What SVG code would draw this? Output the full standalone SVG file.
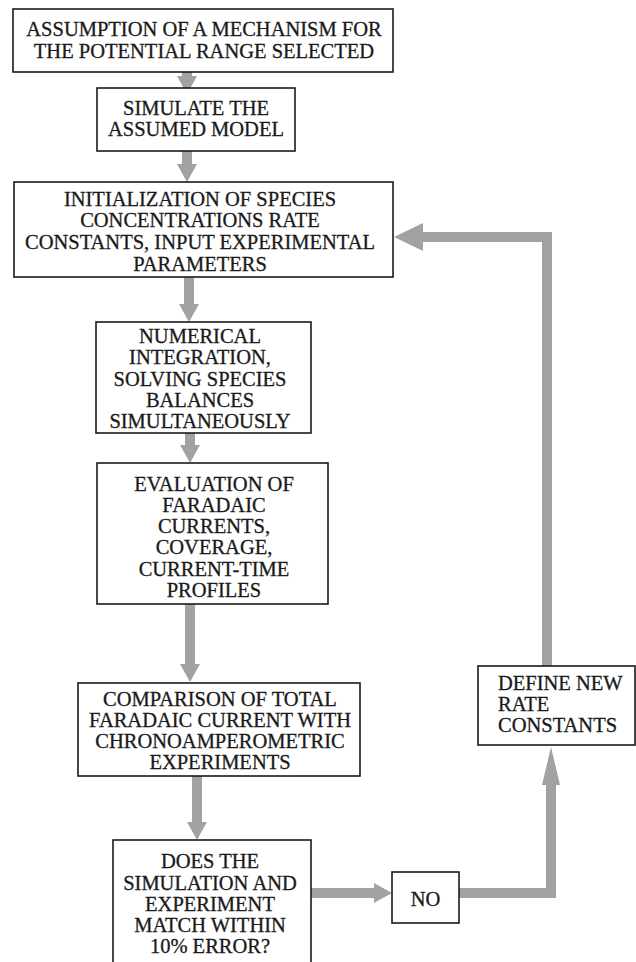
<svg xmlns="http://www.w3.org/2000/svg" width="636" height="962" viewBox="0 0 636 962">
<style>
.box{fill:#fff;stroke:#1a1a1a;stroke-width:1.6}
.t{font-family:'Liberation Serif','Times New Roman',Times,'DejaVu Serif',serif;font-size:20.5px;fill:#1a1a1a;stroke:#1a1a1a;stroke-width:0.3;text-anchor:middle}
.tl{text-anchor:start}
.c{fill:none;stroke:#a2a2a2;stroke-width:10}
</style>
<defs>
<marker id="ah" markerUnits="userSpaceOnUse" viewBox="0 0 18 20" refX="1" refY="10" markerWidth="18" markerHeight="20" orient="auto">
<path d="M0,0 L18,10 L0,20 z" fill="#a2a2a2"/>
</marker>
<marker id="big" markerUnits="userSpaceOnUse" viewBox="0 0 29 28" refX="1" refY="14" markerWidth="29" markerHeight="28" orient="auto">
<path d="M0,0 L29,14 L0,28 z" fill="#a2a2a2"/>
</marker>
<marker id="tall" markerUnits="userSpaceOnUse" viewBox="0 0 38 18" refX="1" refY="9" markerWidth="38" markerHeight="18" orient="auto">
<path d="M0,0 L38,9 L0,18 z" fill="#a2a2a2"/>
</marker>
</defs>
<rect width="636" height="962" fill="#fff"/>
<g id="connectors">
<path class="c" d="M187,72 V77" marker-end="url(#ah)"/>
<path class="c" d="M187,151 V165" marker-end="url(#ah)"/>
<path class="c" d="M189,277 V305" marker-end="url(#ah)"/>
<path class="c" d="M190,433 V446" marker-end="url(#ah)"/>
<path class="c" d="M190,604 V665" marker-end="url(#ah)"/>
<path class="c" d="M197,776 V823" marker-end="url(#ah)"/>
<path class="c" d="M311,893 H375" marker-end="url(#ah)"/>
<path class="c" d="M459,893 H551 V784" marker-end="url(#tall)"/>
<path class="c" d="M547,666 V237 H422" marker-end="url(#big)"/>
</g>
<g id="n1">
<rect class="box" x="13" y="9" width="380" height="63"/>
<text class="t" x="204" y="36">ASSUMPTION OF A MECHANISM FOR</text>
<text class="t" x="204" y="58">THE POTENTIAL RANGE SELECTED</text>
</g>
<g id="n2">
<rect class="box" x="97" y="88" width="198" height="63"/>
<text class="t" x="196" y="115">SIMULATE THE</text>
<text class="t" x="196" y="136">ASSUMED MODEL</text>
</g>
<g id="n3">
<rect class="box" x="14" y="182" width="379" height="95"/>
<text class="t" x="200" y="206">INITIALIZATION OF SPECIES</text>
<text class="t" x="200" y="227">CONCENTRATIONS RATE</text>
<text class="t" x="200" y="249">CONSTANTS, INPUT EXPERIMENTAL</text>
<text class="t" x="200" y="271">PARAMETERS</text>
</g>
<g id="n4">
<rect class="box" x="96" y="322" width="215" height="111"/>
<text class="t" x="200" y="343">NUMERICAL</text>
<text class="t" x="200" y="364">INTEGRATION,</text>
<text class="t" x="200" y="386">SOLVING SPECIES</text>
<text class="t" x="200" y="407">BALANCES</text>
<text class="t" x="200" y="428">SIMULTANEOUSLY</text>
</g>
<g id="n5">
<rect class="box" x="97" y="463" width="231" height="141"/>
<text class="t" x="214" y="491">EVALUATION OF</text>
<text class="t" x="214" y="512">FARADAIC</text>
<text class="t" x="214" y="533">CURRENTS,</text>
<text class="t" x="214" y="554">COVERAGE,</text>
<text class="t" x="214" y="576">CURRENT-TIME</text>
<text class="t" x="214" y="597">PROFILES</text>
</g>
<g id="n6">
<rect class="box" x="78" y="683" width="282" height="93"/>
<text class="t" x="220" y="706">COMPARISON OF TOTAL</text>
<text class="t" x="220" y="727">FARADAIC CURRENT WITH</text>
<text class="t" x="220" y="748">CHRONOAMPEROMETRIC</text>
<text class="t" x="220" y="769">EXPERIMENTS</text>
</g>
<g id="n7">
<rect class="box" x="113" y="840" width="198" height="140"/>
<text class="t" x="210" y="868">DOES THE</text>
<text class="t" x="210" y="890">SIMULATION AND</text>
<text class="t" x="210" y="911">EXPERIMENT</text>
<text class="t" x="210" y="932">MATCH WITHIN</text>
<text class="t" x="210" y="953">10% ERROR?</text>
</g>
<g id="n8">
<rect class="box" x="392" y="872" width="67" height="51"/>
<text class="t" x="425.5" y="906">NO</text>
</g>
<g id="n9">
<rect class="box" x="478" y="666" width="157" height="79"/>
<text class="t tl" x="498" y="690">DEFINE NEW</text>
<text class="t tl" x="498" y="711">RATE</text>
<text class="t tl" x="498" y="732">CONSTANTS</text>
</g>
</svg>
